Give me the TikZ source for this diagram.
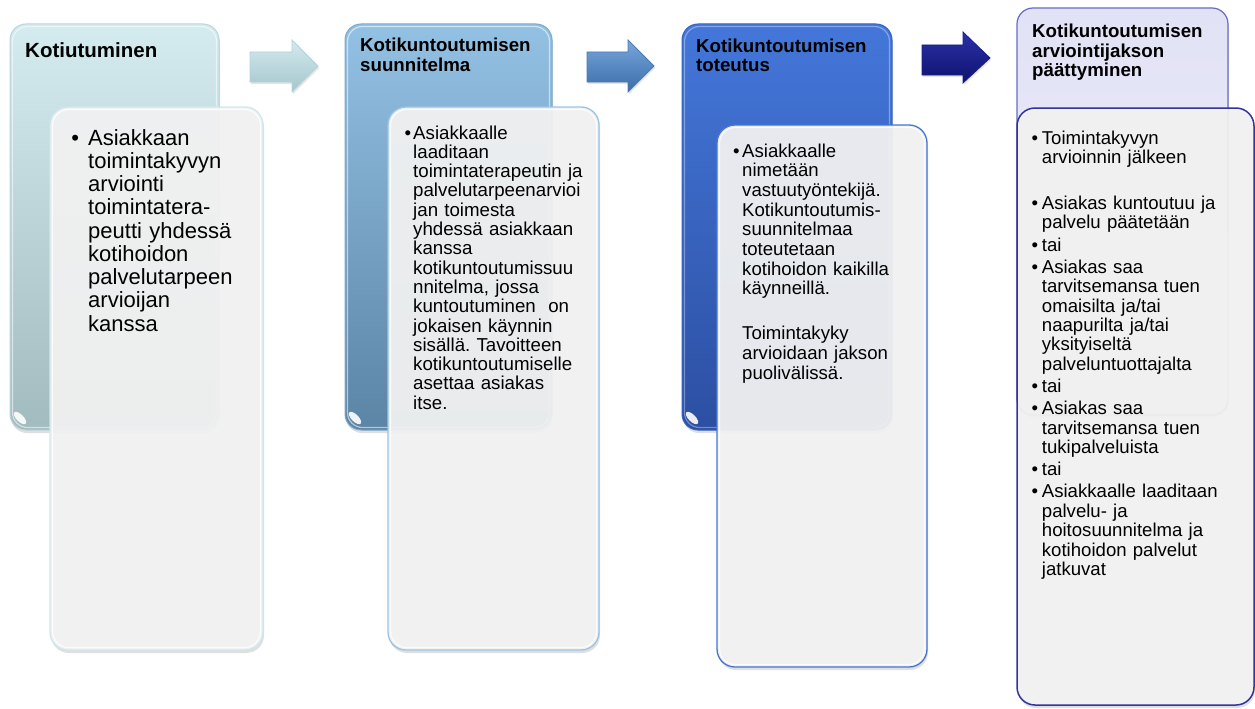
\documentclass[tikz,border=0pt]{standalone}
\usepackage{fontspec}
\setmainfont{Liberation Sans}
\usetikzlibrary{shadows}
\frenchspacing

% stage header colours
\definecolor{hdrAtop}{HTML}{D4EBEF}
\definecolor{hdrAbot}{HTML}{A2BBBF}
\definecolor{hdrAline}{HTML}{B9D6DC}
\definecolor{hdrBtop}{HTML}{93C1E4}
\definecolor{hdrBbot}{HTML}{5B84A5}
\definecolor{hdrBline}{HTML}{7BA9CF}
\definecolor{hdrCtop}{HTML}{4477DA}
\definecolor{hdrCbot}{HTML}{2C4FA2}
\definecolor{hdrCline}{HTML}{3562C4}
\definecolor{hdrDtop}{HTML}{E2E2F6}
\definecolor{hdrDbot}{HTML}{EEEEF9}
\definecolor{hdrDline}{HTML}{6A6AC6}
% content cards
\definecolor{cardfill}{HTML}{F3F3F3}
\definecolor{cardAline}{HTML}{CFE7EC}
\definecolor{cardBline}{HTML}{9CC3E4}
\definecolor{cardCline}{HTML}{4676D0}
\definecolor{cardDline}{HTML}{33339C}
% block arrows
\definecolor{arrAtop}{HTML}{D3EAEE}
\definecolor{arrAbot}{HTML}{A4C6CD}
\definecolor{arrAline}{HTML}{B4D3D9}
\definecolor{arrBtop}{HTML}{77A7DC}
\definecolor{arrBbot}{HTML}{3B6CA8}
\definecolor{arrBline}{HTML}{4A7CB8}
\definecolor{arrCtop}{HTML}{2B31A8}
\definecolor{arrCbot}{HTML}{0E1270}
\definecolor{arrCline}{HTML}{1A1F88}

% bullet paragraph with hanging indent: #1 = bullet box width
\newcommand{\bitem}[2]{\par\hangindent=#1\hangafter=1\noindent\makebox[#1][l]{\textbullet}#2\par}
% continuation paragraph at the same indent, no bullet
\newcommand{\bcont}[2]{\par\hangindent=#1\hangafter=0\noindent#2\par}
\newcommand{\nl}{\newline}

\tikzset{
  hdrbox/.style={rectangle, rounded corners=16pt, inner sep=0pt, outer sep=0pt,
    anchor=north west, line width=1pt,
    drop shadow={shadow xshift=1pt, shadow yshift=-3pt, opacity=0.25}},
  cardbox/.style={rectangle, rounded corners=18pt, inner sep=0pt, outer sep=0pt,
    anchor=north west, line width=1.3pt, fill=cardfill, fill opacity=0.93,
    drop shadow={shadow xshift=1pt, shadow yshift=-3pt, opacity=0.25}},
  sheen/.style={white, opacity=0.55, line width=1.2pt, rounded corners=15pt},
  gloss/.style={white, opacity=0.9},
  titletext/.style={anchor=base west, inner sep=0pt, align=left,
    font=\bfseries\fontsize{18.7}{19.4}\selectfont},
  bodytext/.style={anchor=base west, inner sep=0pt, text width=230pt, align=left},
  blockarrow/.style={line width=0.8pt,
    drop shadow={shadow xshift=1pt, shadow yshift=-2pt, opacity=0.2}},
}

\begin{document}
\begin{tikzpicture}[x=1pt,y=-1pt]
\fill[white] (0,0) rectangle (1255,709);
\useasboundingbox (0,0) rectangle (1255,709);

% ---------- stage 1: Kotiutuminen ----------
\node[hdrbox, top color=hdrAtop, bottom color=hdrAbot, draw=hdrAline,
      minimum width=209pt, minimum height=406pt] (hdrA) at (10,24) {};
\draw[sheen] (12.5,26.5) rectangle (216.5,427.5);
\fill[gloss, rotate around={-45:(20,418)}] (20,418) ellipse [x radius=8pt, y radius=3.5pt];
\node[cardbox, draw=cardAline, minimum width=213pt, minimum height=543pt] (cardA) at (50,107) {};
\draw[sheen, opacity=0.8, rounded corners=16pt] (52.5,109.5) rectangle (260.5,647.5);
\node[titletext, font=\bfseries\fontsize{20.5}{22}\selectfont] (ttlA) at (25,57) {Kotiutuminen};
\node[bodytext, font=\fontsize{22}{23.25}\selectfont] (txtA) at (71.2,121.75)
  {\bitem{16.8pt}{Asiakkaan\nl toimintakyvyn\nl arviointi\nl toimintatera-\nl peutti yhdessä\nl kotihoidon\nl palvelutarpeen\nl arvioijan\nl kanssa}};

% arrow 1
\path[blockarrow, top color=arrAtop, bottom color=arrAbot, draw=arrAline]
  (250,52) -- (292,52) -- (292,40) -- (318,66) -- (292,92) -- (292,82) -- (250,82) -- cycle;

% ---------- stage 2: suunnitelma ----------
\node[hdrbox, top color=hdrBtop, bottom color=hdrBbot, draw=hdrBline,
      minimum width=207pt, minimum height=406pt] (hdrB) at (345,24) {};
\draw[sheen] (347.5,26.5) rectangle (549.5,427.5);
\fill[gloss, rotate around={-45:(355,418)}] (355,418) ellipse [x radius=8pt, y radius=3.5pt];
\node[cardbox, draw=cardBline, minimum width=211pt, minimum height=543pt] (cardB) at (388,107) {};
\draw[sheen, opacity=0.8, rounded corners=16pt] (390.5,109.5) rectangle (596.5,647.5);
\node[titletext] (ttlB) at (360,71) {Kotikuntoutumisen\\suunnitelma};
\node[bodytext, font=\fontsize{18.7}{19.3}\selectfont] (txtB) at (404.5,119.7)
  {\bitem{8.5pt}{Asiakkaalle\nl laaditaan\nl toimintaterapeutin ja\nl palvelutarpeenarvioi\nl jan toimesta\nl yhdessä asiakkaan\nl kanssa\nl kotikuntoutumissuu\nl nnitelma, jossa\nl kuntoutuminen\ \ on\nl jokaisen käynnin\nl sisällä. Tavoitteen\nl kotikuntoutumiselle\nl asettaa asiakas\nl itse.}};

% arrow 2
\path[blockarrow, top color=arrBtop, bottom color=arrBbot, draw=arrBline]
  (587,52) -- (628,52) -- (628,40) -- (654,66) -- (628,92) -- (628,82) -- (587,82) -- cycle;

% ---------- stage 3: toteutus ----------
\node[hdrbox, top color=hdrCtop, bottom color=hdrCbot, draw=hdrCline,
      minimum width=210pt, minimum height=406pt] (hdrC) at (682,24) {};
\draw[sheen, opacity=0.35] (684.5,26.5) rectangle (889.5,427.5);
\fill[gloss, rotate around={-45:(692,418)}] (692,418) ellipse [x radius=8pt, y radius=3.5pt];
\node[cardbox, draw=cardCline, minimum width=210pt, minimum height=542pt] (cardC) at (717,125) {};
\draw[sheen, opacity=0.8, rounded corners=16pt] (719.5,127.5) rectangle (924.5,664.5);
\node[titletext] (ttlC) at (696,71.5) {Kotikuntoutumisen\\toteutus};
\node[bodytext, font=\fontsize{18.6}{19.7}\selectfont] (txtC) at (733,137.3)
  {\setlength{\parskip}{0pt}%
   \bitem{9pt}{Asiakkaalle\nl nimetään\nl vastuutyöntekijä.\nl Kotikuntoutumis-\nl suunnitelmaa\nl toteutetaan\nl kotihoidon kaikilla\nl käynneillä.}%
   \vspace{25.3pt}%
   \bcont{9pt}{Toimintakyky\nl arvioidaan jakson\nl puolivälissä.}};

% arrow 3
\path[blockarrow, top color=arrCtop, bottom color=arrCbot, draw=arrCline]
  (922,45) -- (963,45) -- (963,32) -- (990,58) -- (963,83) -- (963,75) -- (922,75) -- cycle;

% ---------- stage 4: arviointijakson päättyminen ----------
\node[hdrbox, top color=hdrDtop, bottom color=hdrDbot, draw=hdrDline, line width=1.2pt,
      minimum width=211pt, minimum height=407pt] (hdrD) at (1017,8) {};
\node[cardbox, draw=cardDline, line width=1.5pt, minimum width=237pt, minimum height=597pt] (cardD) at (1017,108) {};
\node[titletext] (ttlD) at (1032,76.6) {Kotikuntoutumisen\\arviointijakson\\päättyminen};
\node[bodytext, font=\fontsize{18.6}{19.4}\selectfont] (txtD) at (1031.5,121.8)
  {\setlength{\parskip}{2.8pt}%
   \bitem{10.2pt}{Toimintakyvyn\nl arvioinnin jälkeen}%
   \vspace{23.8pt}%
   \bitem{10.2pt}{Asiakas kuntoutuu ja\nl palvelu päätetään}%
   \bitem{10.2pt}{tai}%
   \bitem{10.2pt}{Asiakas saa\nl tarvitsemansa tuen\nl omaisilta ja/tai\nl naapurilta ja/tai\nl yksityiseltä\nl palveluntuottajalta}%
   \bitem{10.2pt}{tai}%
   \bitem{10.2pt}{Asiakas saa\nl tarvitsemansa tuen\nl tukipalveluista}%
   \bitem{10.2pt}{tai}%
   \bitem{10.2pt}{Asiakkaalle laaditaan\nl palvelu- ja\nl hoitosuunnitelma ja\nl kotihoidon palvelut\nl jatkuvat}};
\end{tikzpicture}
\end{document}
